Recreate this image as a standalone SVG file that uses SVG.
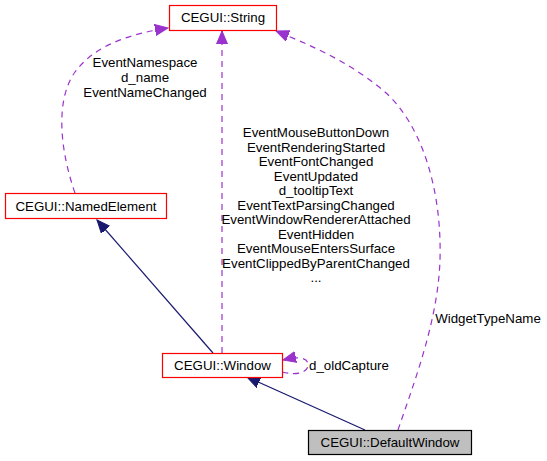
<svg xmlns="http://www.w3.org/2000/svg" width="547" height="461" viewBox="0 0 547 461">
<style>
text{font-family:"Liberation Sans",Arial,sans-serif;font-size:13.3px;fill:#000;text-anchor:middle}
.node{fill:#fff;stroke:#ff0000;stroke-width:1.2}
.cur{fill:#bfbfbf;stroke:#000;stroke-width:1.2}
.dep{fill:none;stroke:#9a32cd;stroke-width:1.2;stroke-dasharray:6,5}
.inh{fill:none;stroke:#191970;stroke-width:1.2}
</style>
<defs>
<marker id="ap" markerUnits="userSpaceOnUse" markerWidth="14" markerHeight="12" refX="13" refY="6" orient="auto" viewBox="0 0 14 12">
<polygon points="0,0.5 13,6 0,11.5" fill="#9a32cd" stroke="#9a32cd"/>
</marker>
<marker id="an" markerUnits="userSpaceOnUse" markerWidth="14" markerHeight="12" refX="13" refY="6" orient="auto" viewBox="0 0 14 12">
<polygon points="0,0.5 13,6 0,11.5" fill="#191970" stroke="#191970"/>
</marker>
</defs>
<g id="edges">
<path class="dep" d="M75,193 C60,150 55,100 75,72 C95,45 130,34 168,28" marker-end="url(#ap)"/>
<path class="dep" d="M222,353 L222,31" marker-end="url(#ap)"/>
<path class="dep" d="M398,430 C415,380 438,320 440,260 C442,190 422,125 385,92 C350,62 310,45 276,31" marker-end="url(#ap)"/>
<path class="inh" d="M213,353 L97,220" marker-end="url(#an)"/>
<path class="inh" d="M365,430 L247,377" marker-end="url(#an)"/>
<path class="dep" d="M282,372 C298,376 308,372 308,365 C308,358 300,356 283,360" marker-end="url(#ap)"/>
<text x="145" y="67">EventNamespace</text>
<text x="145" y="82">d_name</text>
<text x="145" y="97">EventNameChanged</text>
<text x="316" y="137">EventMouseButtonDown</text>
<text x="316" y="151.5">EventRenderingStarted</text>
<text x="316" y="166">EventFontChanged</text>
<text x="316" y="180.5">EventUpdated</text>
<text x="316" y="195">d_tooltipText</text>
<text x="316" y="209.5">EventTextParsingChanged</text>
<text x="316" y="224">EventWindowRendererAttached</text>
<text x="316" y="238.5">EventHidden</text>
<text x="316" y="253">EventMouseEntersSurface</text>
<text x="316" y="267.5">EventClippedByParentChanged</text>
<text x="316" y="282">...</text>
<text x="488" y="323">WidgetTypeName</text>
<text x="349" y="370">d_oldCapture</text>
</g>
<g id="node-string">
<rect class="node" x="169.5" y="5.5" width="107" height="25"/>
<text x="223" y="22">CEGUI::String</text>
</g>
<g id="node-namedelement">
<rect class="node" x="5.5" y="193.5" width="161" height="25"/>
<text x="86" y="210.5">CEGUI::NamedElement</text>
</g>
<g id="node-window">
<rect class="node" x="162.5" y="353.5" width="120" height="24"/>
<text x="222.5" y="370">CEGUI::Window</text>
</g>
<g id="node-defaultwindow">
<rect class="cur" x="308.5" y="430.5" width="163" height="24"/>
<text x="390" y="447">CEGUI::DefaultWindow</text>
</g>
</svg>
